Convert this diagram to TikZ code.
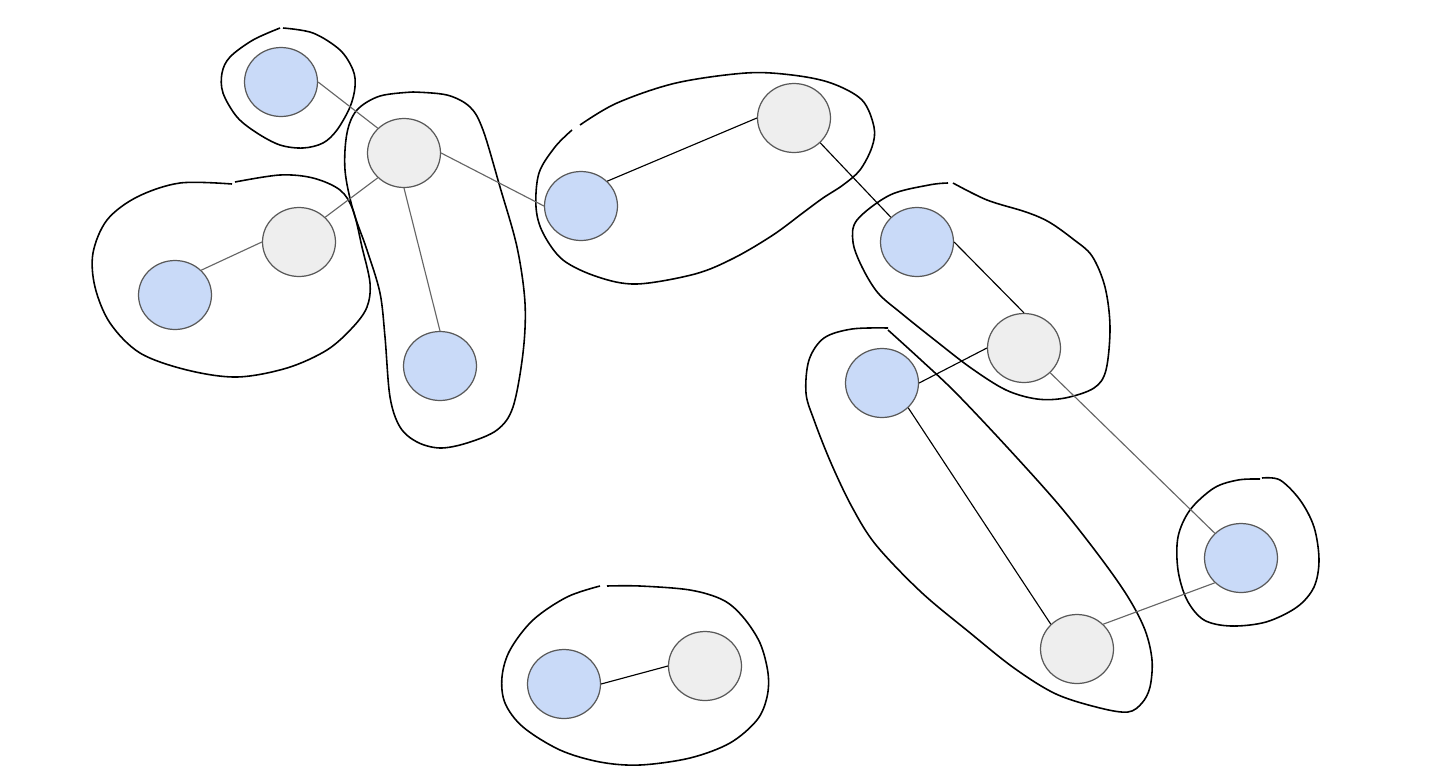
\documentclass[tikz,border=0pt]{standalone}
\usepackage{xcolor}
\usepackage{tikz}
\usetikzlibrary{shapes.geometric}

\definecolor{nodeblue}{HTML}{C9DAF8}
\definecolor{nodegray}{HTML}{EEEEEE}
\definecolor{rim}{HTML}{595959}
\definecolor{linkgray}{HTML}{666666}

\begin{document}
\begin{tikzpicture}[
    x=0.02cm, y=-0.02cm,
    vertex/.style={ellipse, draw=rim, line width=0.7pt, minimum width=1.46cm, minimum height=1.38cm, inner sep=0pt},
    blue/.style={vertex, fill=nodeblue},
    gray/.style={vertex, fill=nodegray},
    soft/.style={draw=linkgray, line width=0.65pt},
    hard/.style={draw=black, line width=0.65pt},
    blob/.style={draw=black, line width=0.9pt, smooth, tension=0.55}
]
\useasboundingbox (0,0) rectangle (1454,778);

% groups
\draw[blob] plot coordinates {(283,28) (313,33) (340,50) (353,70) (355,87) (350,107) (337,130) (323,143) (303,148) (280,145) (257,133) (237,117) (223,93) (222,73) (230,57) (253,40) (280,28)};
\draw[blob] plot coordinates {(413,92) (447,95) (470,107) (483,130) (500,187) (517,247) (525,303) (523,353) (513,407) (497,430) (467,443) (440,448) (417,442) (400,427) (390,397) (385,337) (380,293) (367,250) (353,210) (345,170) (347,133) (357,110) (380,96) (413,92)};
\draw[blob] plot coordinates {(235,182) (280,175) (313,178) (340,190) (353,210) (362,247) (370,283) (367,307) (353,327) (327,350) (287,368) (237,377) (187,370) (140,353) (110,323) (95,287) (93,253) (107,220) (137,197) (180,183) (232,184)};
\draw[blob] plot coordinates {(580,125) (617,103) (676,83) (746,73) (792,75) (831,83) (862,100) (874,127) (872,147) (860,170) (843,185) (823,198) (804,212) (773,235) (734,258) (695,274) (637,284) (598,277) (563,260) (543,233) (536,207) (539,173) (555,147) (572,130)};
\draw[blob] plot coordinates {(953,183) (987,200) (1026,212) (1049,222) (1073,239) (1092,256) (1105,287) (1110,327) (1106,370) (1094,388) (1065,398) (1037,399) (1006,390) (971,368) (936,341) (901,313) (878,293) (862,267) (853,242) (857,220) (890,195) (929,185) (948,183)};
\draw[blob] plot coordinates {(888,328) (852,329) (824,338) (809,360) (806,393) (814,420) (831,463) (852,507) (876,545) (921,592) (969,632) (1014,668) (1056,694) (1100,708) (1128,712) (1142,703) (1150,687) (1152,660) (1145,630) (1128,597) (1100,557) (1059,505) (1007,447) (956,393) (921,360) (888,330)};
\draw[blob] plot coordinates {(1262,478) (1280,480) (1300,500) (1314,527) (1319,560) (1314,587) (1297,607) (1266,622) (1231,626) (1204,620) (1187,600) (1178,570) (1178,537) (1190,510) (1214,488) (1238,480) (1260,479)};
\draw[blob] plot coordinates {(607,586) (640,586) (690,590) (723,600) (743,617) (760,643) (768,673) (767,697) (757,720) (730,743) (690,758) (640,765) (600,762) (560,750) (523,727) (505,703) (502,677) (510,650) (533,620) (567,597) (600,586)};

% nodes
\node[blue] (B1) at (281,82) {};
\node[blue] (B2) at (175,295) {};
\node[blue] (B3) at (440,366) {};
\node[blue] (B4) at (581,206) {};
\node[blue] (B5) at (917,242) {};
\node[blue] (B6) at (882,383) {};
\node[blue] (B7) at (1241,558) {};
\node[blue] (B8) at (564,684) {};
\node[gray] (G1) at (404,153) {};
\node[gray] (G2) at (299,242) {};
\node[gray] (G3) at (794,118) {};
\node[gray] (G4) at (1024,348) {};
\node[gray] (G5) at (1077,649) {};
\node[gray] (G6) at (705,666) {};

% links
\draw[soft] (B1.east) -- (G1.north west);
\draw[soft] (G1.south west) -- (G2.north east);
\draw[soft] (G2.west) -- (B2.north east);
\draw[soft] (G1.south) -- (B3.north);
\draw[soft] (G1.east) -- (B4.west);
\draw[hard] (B4.north east) -- (G3.west);
\draw[hard] (G3.south east) -- (B5.north west);
\draw[hard] (B5.east) -- (G4.north);
\draw[hard] (G4.west) -- (B6.east);
\draw[hard] (B6.south east) -- (G5.north west);
\draw[soft] (G4.south east) -- (B7.north west);
\draw[soft] (G5.north east) -- (B7.south west);
\draw[hard] (B8.east) -- (G6.west);
\end{tikzpicture}
\end{document}
